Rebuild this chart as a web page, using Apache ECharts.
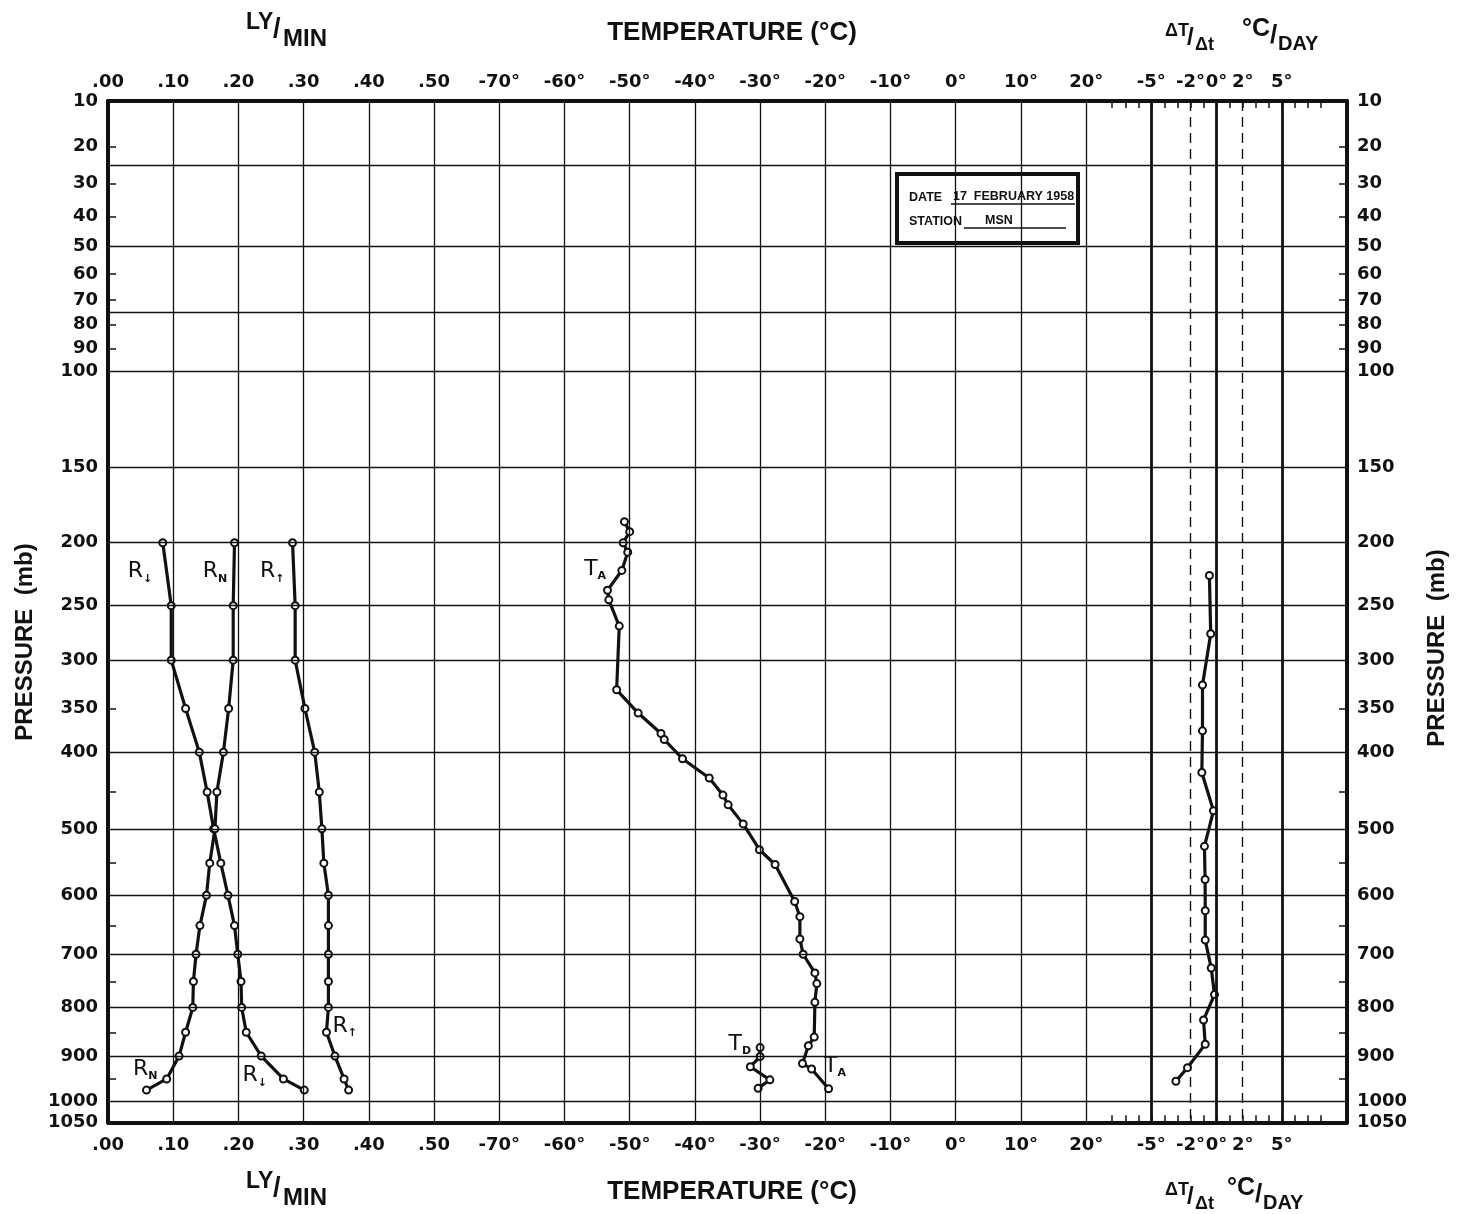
<!DOCTYPE html>
<html>
<head>
<meta charset="utf-8">
<title>MSN 17 February 1958</title>
<script src="https://cdn.jsdelivr.net/npm/echarts@6/dist/echarts.min.js"></script>
<style>
  html, body { margin: 0; background: #fff; }
  #main { width: 1461px; height: 1214px; }
</style>
</head>
<body>
<div id="main"></div>
<script>
  // radiation profiles, LY/MIN at standard levels (mb)
  var levels = [200, 250, 300, 350, 400, 450, 500, 550, 600, 650, 700, 750, 800, 850, 900, 950, 975];
  var rDown = [0.084, 0.097, 0.097, 0.119, 0.140, 0.152, 0.162, 0.173, 0.184, 0.194, 0.199, 0.204, 0.205, 0.212, 0.235, 0.269, 0.301];
  var rNet = [0.194, 0.192, 0.192, 0.185, 0.177, 0.167, 0.164, 0.156, 0.151, 0.141, 0.135, 0.131, 0.130, 0.119, 0.109, 0.090, 0.059];
  var rUp = [0.283, 0.287, 0.287, 0.302, 0.317, 0.324, 0.328, 0.331, 0.338, 0.338, 0.338, 0.338, 0.338, 0.335, 0.348, 0.362, 0.369];

  // air temperature sounding (°C)
  var taPres = [185, 192, 200, 207, 221, 237, 245, 268, 330, 355, 378, 385, 408, 432, 454, 467, 493, 530, 552, 610, 635, 673, 700, 734, 754, 790, 860, 878, 916, 928, 972];
  var taTemp = [-50.8, -50.0, -51.0, -50.3, -51.2, -53.4, -53.2, -51.6, -52.0, -48.7, -45.2, -44.7, -41.9, -37.8, -35.7, -34.9, -32.6, -30.1, -27.7, -24.7, -23.9, -23.9, -23.4, -21.6, -21.3, -21.6, -21.7, -22.6, -23.5, -22.1, -19.5];

  // dew point (°C)
  var tdPres = [882, 901, 923, 952, 971];
  var tdTemp = [-30.0, -30.0, -31.5, -28.5, -30.3];

  // radiative temperature change, °C/day, layer mid points
  var ratePres = [225, 275, 325, 375, 425, 475, 525, 575, 625, 675, 725, 775, 825, 875, 925, 955];
  var rateVal = [-0.55, -0.45, -1.08, -1.08, -1.13, -0.24, -0.93, -0.88, -0.87, -0.87, -0.41, -0.16, -1.0, -0.87, -2.23, -3.12];

  // axis ticks
  var lyTicks = [0, 0.1, 0.2, 0.3, 0.4, 0.5];
  var lyLabels = ['.00', '.10', '.20', '.30', '.40', '.50'];
  var tempTicks = [-70, -60, -50, -40, -30, -20, -10, 0, 10, 20];
  var rateTicks = [-5, -2, 0, 2, 5];
  var rateMinor = [-8, -7, -6, -5, -4, -3, -2, -1, 0, 1, 2, 3, 4, 5, 6, 7, 8];
  var presLabels = [10, 20, 30, 40, 50, 60, 70, 80, 90, 100, 150, 200, 250, 300, 350, 400, 500, 600, 700, 800, 900, 1000, 1050];
  var presGrid = [25, 50, 75, 100, 150, 200, 250, 300, 400, 500, 600, 700, 800, 900, 1000];
  var presTicks = [20, 30, 40, 60, 70, 80, 90, 350, 450, 550, 650, 750, 850, 950];

  // curve labels
  var notes = [
    { t: 'R', s: '↓', scale: 'ly', x: 0.049, p: 222 },
    { t: 'R', s: 'N', scale: 'ly', x: 0.164, p: 222 },
    { t: 'R', s: '↑', scale: 'ly', x: 0.252, p: 222 },
    { t: 'T', s: 'A', scale: 'temp', x: -55.3, p: 220 },
    { t: 'R', s: '↑', scale: 'ly', x: 0.363, p: 837 },
    { t: 'R', s: 'N', scale: 'ly', x: 0.057, p: 928 },
    { t: 'R', s: '↓', scale: 'ly', x: 0.225, p: 942 },
    { t: 'T', s: 'D', scale: 'temp', x: -33.1, p: 874 },
    { t: 'T', s: 'A', scale: 'temp', x: -18.5, p: 921 }
  ];

  // horizontal scale: one column per 0.1 LY/MIN, 10 °C, or 5 °C/day
  function lyX(v) { return v * 10; }
  function tX(t) { return 13 + t / 10; }
  function rX(d) { return 17 + d / 5; }
  function toX(scale, v) { return scale === 'ly' ? lyX(v) : scale === 'temp' ? tX(v) : rX(v); }

  // vertical scale: p^0.63 above 100 mb, p^0.286 below
  var KU = 0.63, KL = 0.286;
  function u(p) {
    if (p <= 100) return 270 * (Math.pow(p, KU) - Math.pow(10, KU)) / (Math.pow(100, KU) - Math.pow(10, KU));
    return 270 + 730 * (Math.pow(p, KL) - Math.pow(100, KL)) / (Math.pow(1000, KL) - Math.pow(100, KL));
  }
  var uMax = u(1050);

  var xTicks = [];
  lyTicks.forEach(function (v, i) { xTicks.push({ pos: lyX(v), text: lyLabels[i] }); });
  tempTicks.forEach(function (v) { xTicks.push({ pos: tX(v), text: v + '°' }); });
  rateTicks.forEach(function (v) { xTicks.push({ pos: rX(v), text: v + '°' }); });

  function nearest(list, f, v) {
    var best = list[0], d = Infinity;
    list.forEach(function (t) { var dd = Math.abs(f(t) - v); if (dd < d) { d = dd; best = t; } });
    return best;
  }

  var ink = '#111';
  var tickFont = { color: ink, fontFamily: 'DejaVu Sans', fontWeight: 'bold', fontSize: 18 };

  function xAxisDef(pos, margin) {
    return {
      type: 'value', position: pos, min: 0, max: 19,
      axisLine: { show: true, onZero: false, lineStyle: { color: ink, width: 4 } },
      axisTick: { show: true, inside: true, length: 7, customValues: rateMinor.map(rX), lineStyle: { color: ink, width: 1.5 } },
      axisLabel: Object.assign({
        margin: margin,
        customValues: xTicks.map(function (t) { return t.pos; }),
        formatter: function (v) { return nearest(xTicks, function (t) { return t.pos; }, v).text; }
      }, tickFont),
      splitLine: { show: false }
    };
  }
  function yAxisDef(pos) {
    return {
      type: 'value', position: pos, inverse: true, min: 0, max: uMax,
      axisLine: { show: true, onZero: false, lineStyle: { color: ink, width: 4 } },
      axisTick: { show: true, inside: true, length: 8, customValues: presTicks.map(u), lineStyle: { color: ink, width: 1.5 } },
      axisLabel: Object.assign({
        margin: 10,
        customValues: presLabels.map(u),
        formatter: function (v) { return String(nearest(presLabels, u, v)); }
      }, tickFont),
      splitLine: { show: false }
    };
  }

  var gridLines = presGrid.map(function (p) { return { yAxis: u(p) }; });
  for (var k = 1; k <= 15; k++) gridLines.push({ xAxis: k });
  [16, 17, 18].forEach(function (k) { gridLines.push({ xAxis: k, lineStyle: { width: 2.8 } }); });
  [-2, 2].forEach(function (d) { gridLines.push({ xAxis: rX(d), lineStyle: { type: [10, 6], width: 1.4 } }); });

  function profile(xs, ps, scale) {
    return {
      type: 'line', data: xs.map(function (v, i) { return [toX(scale, v), u(ps[i])]; }),
      symbol: 'emptyCircle', symbolSize: 7, z: 3,
      lineStyle: { color: ink, width: 3.2 },
      itemStyle: { color: ink, borderWidth: 2 }
    };
  }

  function txt(x, y, s, font, align) {
    return { type: 'text', x: x, y: y, style: { text: s, font: font, fill: ink, textAlign: align || 'left', textVerticalAlign: 'middle' } };
  }
  function heading(dy, dx2) {
    return [
      txt(246, 23 + dy, 'LY', 'bold 23px "Liberation Sans"'),
      txt(273, 30 + dy, '/', 'bold 27px "Liberation Sans"'),
      txt(283, 39 + dy, 'MIN', 'bold 24px "Liberation Sans"'),
      txt(732, 33 + dy, 'TEMPERATURE (°C)', 'bold 26px "Liberation Sans"', 'center'),
      txt(1165, 31 + dy, 'ΔT', 'bold 18px "Liberation Sans"'),
      txt(1187, 38 + dy, '/', 'bold 24px "Liberation Sans"'),
      txt(1195, 45 + dy, 'Δt', 'bold 18px "Liberation Sans"'),
      txt(1242 + dx2, 29 + dy, '°C', 'bold 25px "Liberation Sans"'),
      txt(1270 + dx2, 36 + dy, '/', 'bold 26px "Liberation Sans"'),
      txt(1278 + dx2, 44 + dy, 'DAY', 'bold 20px "Liberation Sans"')
    ];
  }

  var boxFont = 'bold 12.5px "Liberation Sans"';
  var box = {
    type: 'group', children: [
      { type: 'rect', shape: { x: 897, y: 174, width: 181, height: 69 }, style: { fill: '#fff', stroke: ink, lineWidth: 4 } },
      txt(909, 198, 'DATE', boxFont),
      txt(953, 197, '17  FEBRUARY 1958', boxFont),
      { type: 'line', shape: { x1: 951, y1: 204, x2: 1075, y2: 204 }, style: { stroke: ink, lineWidth: 1.3 } },
      txt(909, 222, 'STATION', boxFont),
      txt(985, 221, 'MSN', boxFont),
      { type: 'line', shape: { x1: 964, y1: 228, x2: 1066, y2: 228 }, style: { stroke: ink, lineWidth: 1.3 } }
    ]
  };

  var pressFont = 'bold 24px "Liberation Sans"';
  var chart = echarts.init(document.getElementById('main'));
  chart.setOption({
    backgroundColor: '#fff',
    animation: false,
    grid: { left: 108, top: 101, width: 1239, height: uMax, containLabel: false, outerBoundsMode: 'none' },
    xAxis: [xAxisDef('bottom', 14), xAxisDef('top', 10)],
    yAxis: [yAxisDef('left'), yAxisDef('right')],
    graphic: heading(0, 0).concat(heading(1159, -15)).concat([
      { type: 'text', x: 25, y: 642, rotation: Math.PI / 2, style: { text: 'PRESSURE  (mb)', font: pressFont, fill: ink, textAlign: 'center', textVerticalAlign: 'middle' } },
      { type: 'text', x: 1437, y: 648, rotation: Math.PI / 2, style: { text: 'PRESSURE  (mb)', font: pressFont, fill: ink, textAlign: 'center', textVerticalAlign: 'middle' } },
      box
    ]),
    series: [
      {
        type: 'line', data: [], z: 1, silent: true,
        markLine: {
          silent: true, symbol: ['none', 'none'], label: { show: false }, animation: false,
          lineStyle: { color: ink, width: 1.3, type: 'solid' },
          emphasis: { disabled: true },
          data: gridLines
        }
      },
      profile(rDown, levels, 'ly'),
      profile(rNet, levels, 'ly'),
      profile(rUp, levels, 'ly'),
      profile(taTemp, taPres, 'temp'),
      profile(tdTemp, tdPres, 'temp'),
      profile(rateVal, ratePres, 'rate'),
      {
        type: 'scatter', symbolSize: 0, z: 4, silent: true,
        itemStyle: { opacity: 1 },
        data: notes.map(function (n) { return { value: [toX(n.scale, n.x), u(n.p)], t: n.t, s: n.s }; }),
        label: {
          show: true, position: 'inside', color: ink, opacity: 1, textBorderWidth: 0,
          formatter: function (prm) { return '{a|' + prm.data.t + '}{b|' + prm.data.s + '}'; },
          rich: {
            a: { fontFamily: 'DejaVu Sans', fontSize: 22, color: ink, lineHeight: 26 },
            b: { fontFamily: 'DejaVu Sans', fontSize: 11, fontWeight: 'bold', color: ink, lineHeight: 14, verticalAlign: 'bottom' }
          }
        }
      }
    ]
  });
</script>
</body>
</html>
